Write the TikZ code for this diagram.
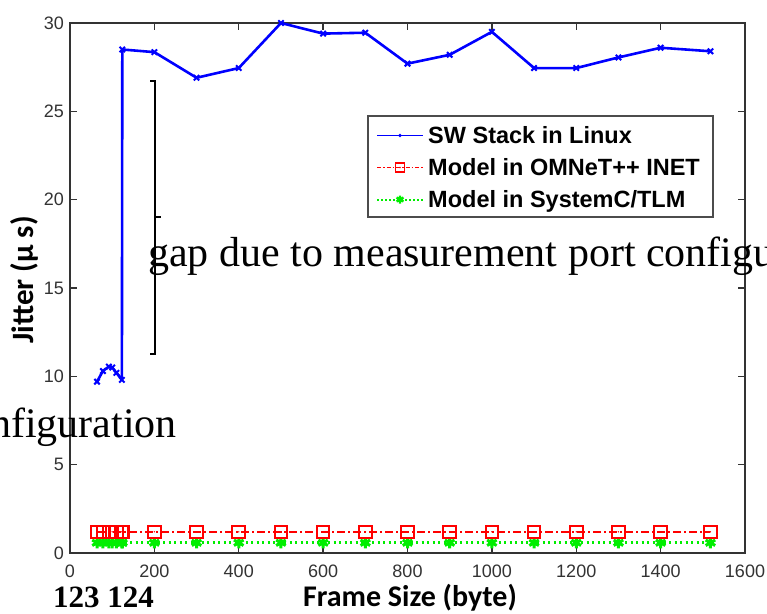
\documentclass[tikz,border=0pt]{standalone}
\usepackage{fontspec}
\setmainfont{Liberation Serif}
\newfontfamily\helv{Liberation Sans}
\newfontfamily\cali{Carlito}
\usetikzlibrary{plotmarks}

\definecolor{axisgray}{HTML}{333333}
\definecolor{mblue}{HTML}{0000FF}
\definecolor{mred}{HTML}{FF0000}
\definecolor{mgreen}{HTML}{00EE00}

% open square with a small dot in the middle
\pgfdeclareplotmark{sqdot}{%
  \pgfpathrectangle{\pgfpoint{-\pgfplotmarksize}{-\pgfplotmarksize}}%
    {\pgfpoint{2\pgfplotmarksize}{2\pgfplotmarksize}}%
  \pgfusepathqstroke
  \pgfpathcircle{\pgfpointorigin}{0.8pt}%
  \pgfusepathqfill}

\begin{document}
\begin{tikzpicture}[x=1pt,y=-1pt,
  axisline/.style={axisgray, line width=1.3pt},
  ticklab/.style={font=\helv\fontsize{18}{18}\selectfont, text=black!80, inner sep=0pt},
  legtext/.style={font=\helv\bfseries\fontsize{23.5}{23.5}\selectfont, inner sep=0pt, anchor=base west},
  anno/.style={font=\fontsize{42}{42}\selectfont, inner sep=0pt},
  axlab/.style={font=\cali\bfseries\fontsize{30}{30}\selectfont, inner sep=0pt, anchor=base},
  swline/.style={mblue, line width=2.6pt, line join=round},
  omline/.style={mred, line width=2.2pt, dash pattern=on 8pt off 3pt on 2pt off 3pt},
  scline/.style={mgreen, line width=2.6pt, dash pattern=on 2pt off 3.5pt},
  swmark/.style={mark=x, mark size=3.8pt, mark options={solid, mblue, line width=2pt}},
  ommark/.style={mark=sqdot, mark size=6.3pt, mark options={solid, mred, line width=2pt}},
  scmark/.style={mark=asterisk, mark size=5.5pt, mark options={solid, mgreen, line width=3pt}},
  bracket/.style={black, line width=1.4pt}]
\useasboundingbox (0,0) rectangle (767,613);
\clip (0,0) rectangle (767,613);
\fill[white] (0,0) rectangle (767,613);

% plot frame with ticks on all four sides
\draw[axisline] (70,23) rectangle (745,553);
\foreach \v in {0,200,...,1600}{
  \pgfmathsetmacro\px{70+0.421875*\v}
  \draw[axisline] (\px,553) -- (\px,546) (\px,23) -- (\px,30);
  \node[ticklab] (xt\v) at (\px,571) {\v};
}
\foreach \v in {0,5,...,30}{
  \pgfmathsetmacro\py{553-17.6667*\v}
  \draw[axisline] (70,\py) -- (77,\py) (745,\py) -- (738,\py);
  \node[ticklab, anchor=east] (yt\v) at (64,\py) {\v};
}

% data series (frame size in byte, jitter in microseconds)
\begin{scope}[shift={(70pt,-553pt)}, x=0.421875pt, y=17.6667pt]
  \draw[scline, scmark] plot coordinates {(64,0.58) (78,0.58) (92,0.58) (100,0.58) (110,0.58)
    (123,0.58) (124,0.58) (200,0.58) (300,0.58) (400,0.58) (500,0.58) (600,0.58) (700,0.58)
    (800,0.58) (900,0.58) (1000,0.58) (1100,0.58) (1200,0.58) (1300,0.58) (1400,0.58) (1518,0.58)};
  \draw[omline, ommark] plot coordinates {(64,1.2) (78,1.2) (92,1.2) (100,1.2) (110,1.2)
    (123,1.2) (124,1.2) (200,1.2) (300,1.2) (400,1.2) (500,1.2) (600,1.2) (700,1.2)
    (800,1.2) (900,1.2) (1000,1.2) (1100,1.2) (1200,1.2) (1300,1.2) (1400,1.2) (1518,1.2)};
  \draw[swline, swmark] plot coordinates {(64,9.7) (78,10.3) (92,10.55) (100,10.5) (110,10.2)
    (123,9.8) (124,28.5) (200,28.35) (300,26.9) (400,27.45) (500,30) (600,29.4) (700,29.45)
    (800,27.7) (900,28.2) (1000,29.5) (1100,27.45) (1200,27.45) (1300,28.05) (1400,28.6) (1518,28.4)};
\end{scope}

% legend
\draw[black!70, line width=1.1pt, fill=white] (368,116) rectangle (713,217);
\draw[swline, line width=1.8pt] (377,135.5) -- (423,135.5);
\fill[mblue] (400,135.5) circle (1.8pt);
\draw[omline, line width=1.6pt, dash pattern=on 4pt off 2pt on 1.5pt off 2pt] (377,167.5) -- (423,167.5);
\path plot[mark=sqdot, mark size=4.5pt, mark options={solid, mred, line width=1.6pt}] coordinates {(400,167.5)};
\draw[scline, line width=2pt, dash pattern=on 1.5pt off 2.5pt] (377,199.5) -- (423,199.5);
\path plot[mark=asterisk, mark size=4pt, mark options={solid, mgreen, line width=2.4pt}] coordinates {(400,199.5)};
\node[legtext] (leg1) at (428,143) {SW Stack in Linux};
\node[legtext] (leg2) at (428,175) {Model in OMNeT++ INET};
\node[legtext] (leg3) at (428,207) {Model in SystemC/TLM};

% axis titles
\node[axlab] (xlab) at (410,606) {Frame Size (byte)};
\node[axlab, rotate=90, font=\cali\bfseries\fontsize{31}{31}\selectfont] (ylab) at (33,280) {Jitter (μ s)};

% gap annotation
\draw[bracket] (150,81) -- (155,81) -- (155,354) -- (150,354);
\draw[bracket] (155,217) -- (161,217);
\node[anno, anchor=base west] (gap) at (148,266) {gap due to measurement port configuration};
\node[anno, anchor=base east] (cfg) at (177,437) {configuration};
\node[font=\bfseries\fontsize{31}{31}\selectfont, inner sep=0pt, anchor=base west] (fsz) at (53,607) {123 124};
\end{tikzpicture}
\end{document}
